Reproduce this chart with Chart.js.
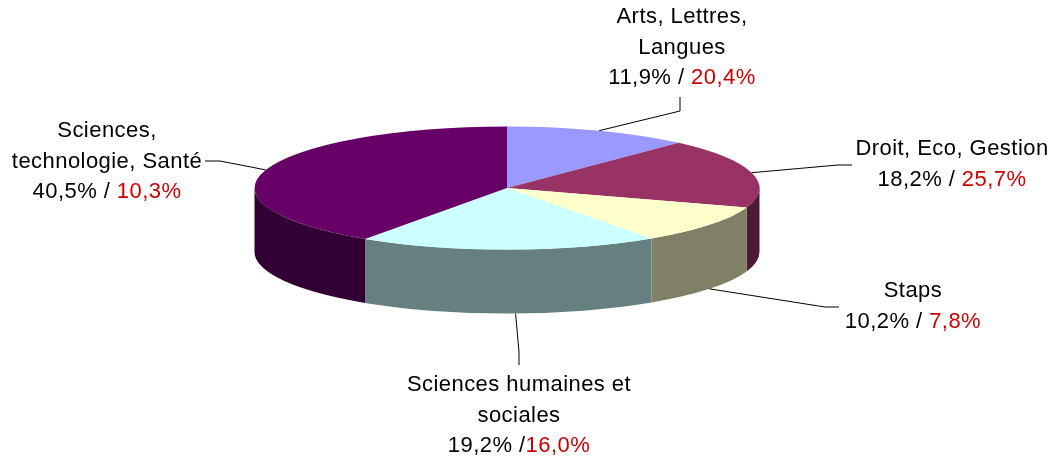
<!DOCTYPE html>
<html>
<head>
<meta charset="utf-8">
<title>Répartition par filière</title>
<script src="https://cdn.jsdelivr.net/npm/chart.js@4"></script>
<style>
  html, body { margin: 0; padding: 0; background: #ffffff; }
  canvas { display: block; }
</style>
</head>
<body>
<canvas id="pieChart" width="1057" height="457"></canvas>
<script>
const categories = ["Arts, Lettres, Langues", "Droit, Eco, Gestion", "Staps", "Sciences humaines et sociales", "Sciences, technologie, Santé"];
const shareValues = [11.9, 18.2, 10.2, 19.2, 40.5];
const redValues = [20.4, 25.7, 7.8, 16.0, 10.3];
const labelLines = [
  ["Arts, Lettres,", "Langues"],
  ["Droit, Eco, Gestion"],
  ["Staps"],
  ["Sciences humaines et", "sociales"],
  ["Sciences,", "technologie, Santé"],
];
const separators = [" / ", " / ", " / ", " /", " / "];

const topColors = ["#9999ff", "#993366", "#ffffcc", "#ccffff", "#660066"];
const sideColors = ["#4d4d80", "#4d1a33", "#808066", "#668080", "#330033"];

// look of the tilted pie
const SQUASH = 0.244;
const DEPTH = 64;
const RADIUS = 252.5;

// label block: centre x, y of first line. leader: elbow points after the pie edge
const labelPos = [
  { x: 682, y: 17, leader: [[680, 111], [680, 97]] },
  { x: 952, y: 149, leader: [[838, 165], [852, 165]] },
  { x: 913, y: 291, leader: [[825, 307], [839, 307]] },
  { x: 519, y: 385, startShift: 7, leader: [[519, 352], [519, 365]] },
  { x: 107, y: 131, leader: [[220, 161], [205, 161]] },
];
const LINE_HEIGHT = 30.5;

function pct(v) {
  return v.toFixed(1).replace(".", ",") + "%";
}

const tiltPlugin = {
  id: "tilt",
  beforeDatasetDraw(chart, args) {
    const ctx = chart.ctx;
    const arcs = args.meta.data;
    const TWO_PI = Math.PI * 2;
    // side wall under the front half of the ellipse
    arcs.forEach((arc, i) => {
      const ry = arc.outerRadius * SQUASH;
      ctx.fillStyle = sideColors[i];
      for (let k = -1; k <= 1; k++) {
        const lo = Math.max(arc.startAngle, TWO_PI * k);
        const hi = Math.min(arc.endAngle, Math.PI + TWO_PI * k);
        if (hi <= lo) continue;
        ctx.beginPath();
        ctx.ellipse(arc.x, arc.y, arc.outerRadius, ry, 0, lo, hi);
        ctx.ellipse(arc.x, arc.y + DEPTH, arc.outerRadius, ry, 0, hi, lo, true);
        ctx.closePath();
        ctx.fill();
      }
    });
    ctx.save();
    ctx.translate(0, arcs[0].y);
    ctx.scale(1, SQUASH);
    ctx.translate(0, -arcs[0].y);
  },
  afterDatasetDraw(chart) {
    chart.ctx.restore();
  },
  afterDraw(chart) {
    const ctx = chart.ctx;
    const arcs = chart.getDatasetMeta(0).data;
    // leader lines start on the pie edge at the middle of each slice
    ctx.strokeStyle = "#000000";
    ctx.lineWidth = 1;
    arcs.forEach((arc, i) => {
      const mid = (arc.startAngle + arc.endAngle) / 2;
      let sx = arc.x + Math.cos(mid) * arc.outerRadius + (labelPos[i].startShift || 0);
      let sy = arc.y + Math.sin(mid) * arc.outerRadius * SQUASH;
      if (Math.sin(mid) > 0) sy += DEPTH;
      ctx.beginPath();
      ctx.moveTo(sx, sy);
      labelPos[i].leader.forEach((p) => ctx.lineTo(p[0], p[1]));
      ctx.stroke();
    });

    ctx.font = "22px 'Liberation Sans'";
    ctx.letterSpacing = "0.45px";
    ctx.textBaseline = "middle";
    ctx.textAlign = "left";
    labelLines.forEach((lines, i) => {
      const pos = labelPos[i];
      ctx.fillStyle = "#000000";
      lines.forEach((line, n) => {
        const w = ctx.measureText(line).width;
        ctx.fillText(line, pos.x - w / 2, pos.y + n * LINE_HEIGHT);
      });
      const y = pos.y + lines.length * LINE_HEIGHT;
      const black = pct(shareValues[i]) + separators[i];
      const red = pct(redValues[i]);
      const bw = ctx.measureText(black).width;
      const rw = ctx.measureText(red).width;
      const left = pos.x - (bw + rw) / 2;
      ctx.fillText(black, left, y);
      ctx.fillStyle = "#cc0000";
      ctx.fillText(red, left + bw, y);
    });
  },
};

new Chart(document.getElementById("pieChart"), {
  type: "pie",
  data: {
    labels: categories,
    datasets: [
      {
        data: shareValues,
        backgroundColor: topColors,
        borderWidth: 0,
        clip: false,
      },
    ],
  },
  options: {
    responsive: false,
    animation: false,
    radius: RADIUS,
    layout: { padding: { left: 0, right: 43, top: 0, bottom: 81 } },
    plugins: { legend: { display: false }, tooltip: { enabled: false } },
  },
  plugins: [tiltPlugin],
});
</script>
</body>
</html>
